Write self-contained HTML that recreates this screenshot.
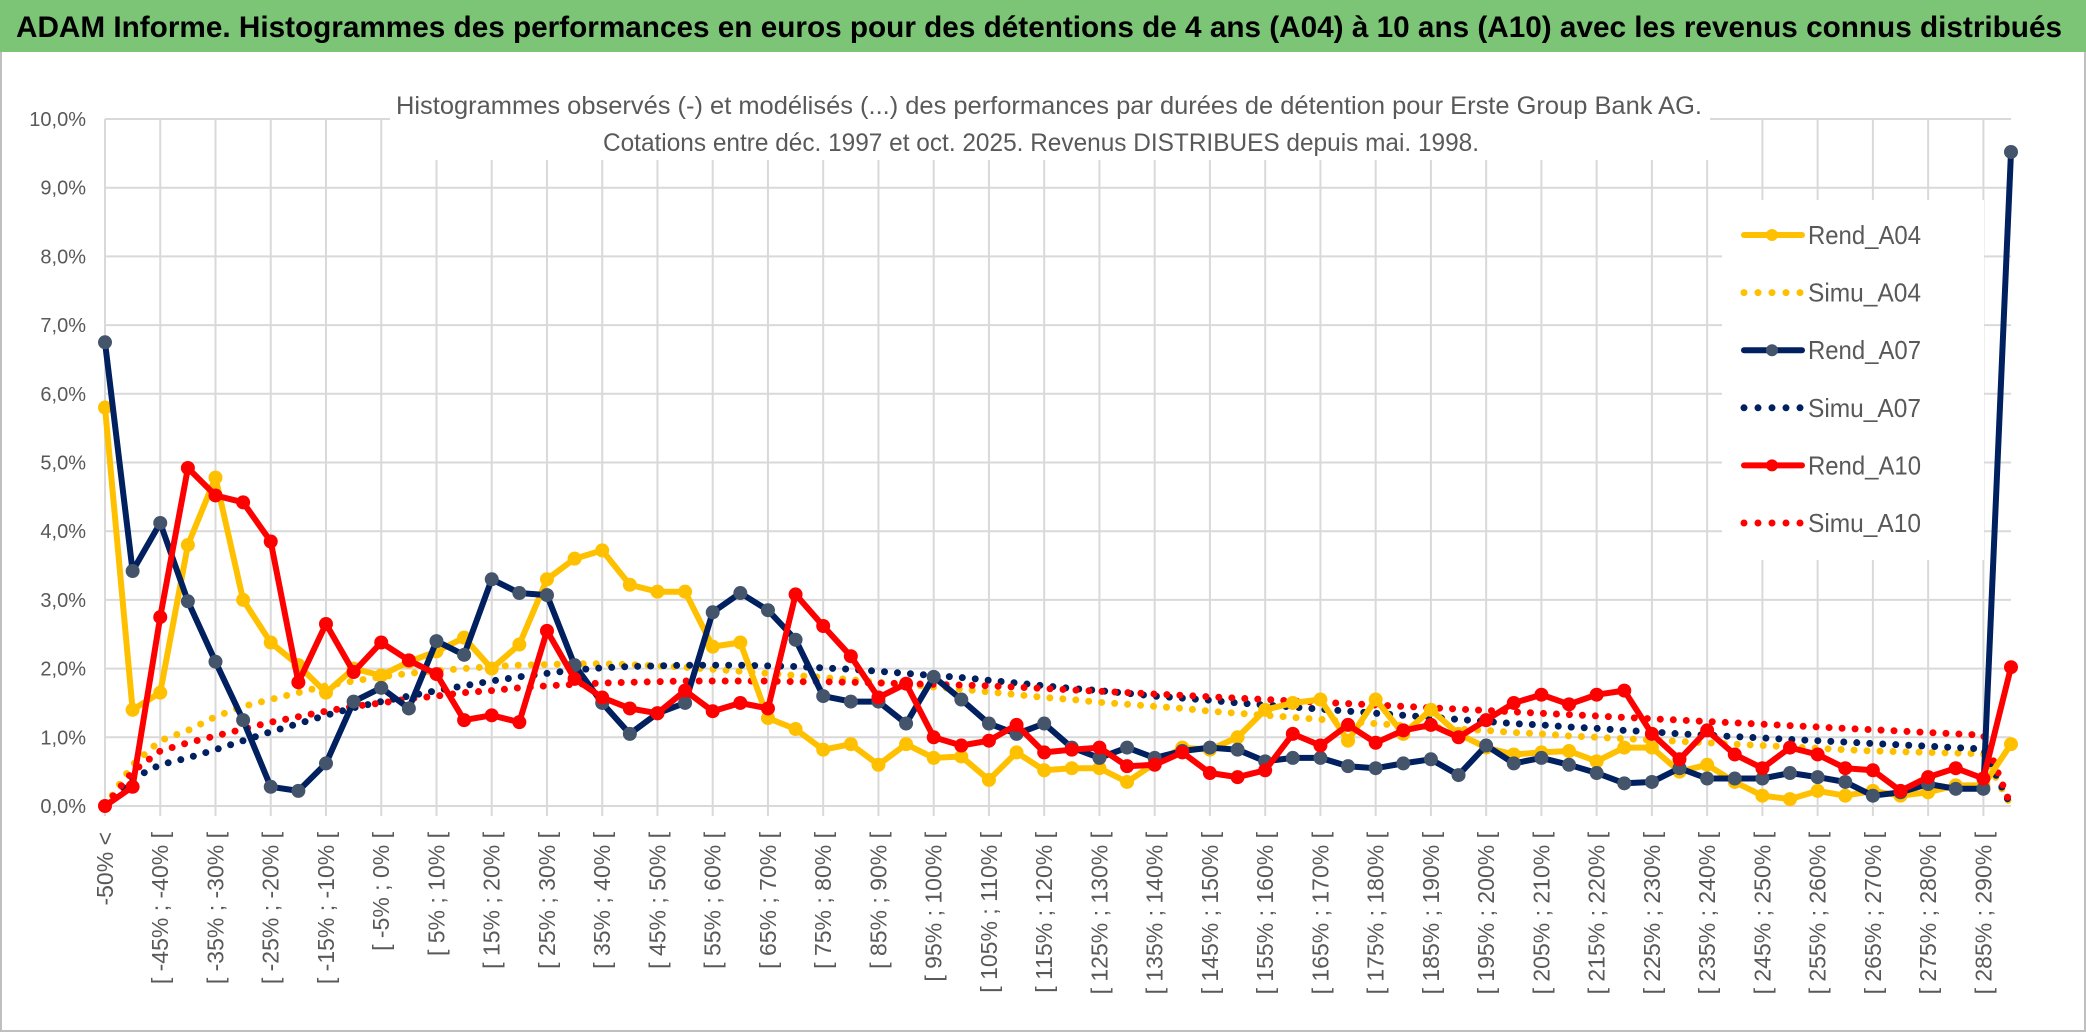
<!DOCTYPE html>
<html><head><meta charset="utf-8"><style>
html,body{margin:0;padding:0;background:#fff;}
svg{display:block;font-family:"Liberation Sans",sans-serif;}
</style></head><body>
<svg id="chart" width="2086" height="1033" viewBox="0 0 2086 1033" xmlns="http://www.w3.org/2000/svg">
<rect x="0" y="0" width="2086" height="1033" fill="#fff"/>
<rect x="1" y="1" width="2084" height="1030" fill="none" stroke="#bfbfbf" stroke-width="2"/>
<rect x="0" y="0" width="2086" height="52" fill="#7cc576"/>
<text x="16" y="37" font-size="30" font-weight="bold" fill="#000" textLength="2046" lengthAdjust="spacingAndGlyphs">ADAM Informe. Histogrammes des performances en euros pour des détentions de 4 ans (A04) à 10 ans (A10) avec les revenus connus distribués</text>
<g id="grid"></g>
<g id="yaxis"></g>
<g id="xaxis"></g>
<g id="series"></g>
<rect x="390" y="80" width="1320" height="80" fill="#fff"/>
<text x="1049" y="114" font-size="25" fill="#595959" text-anchor="middle" textLength="1306" lengthAdjust="spacingAndGlyphs">Histogrammes observés (-) et modélisés (...) des performances par durées de détention pour Erste Group Bank AG.</text>
<text x="1041" y="151" font-size="25" fill="#595959" text-anchor="middle" textLength="876" lengthAdjust="spacingAndGlyphs">Cotations entre déc. 1997 et oct. 2025. Revenus DISTRIBUES depuis mai. 1998.</text>
<g id="legend"></g>
</svg>
<script>
const categories = ["-50% <","[ -50% ; -45% [","[ -45% ; -40% [","[ -40% ; -35% [","[ -35% ; -30% [","[ -30% ; -25% [","[ -25% ; -20% [","[ -20% ; -15% [","[ -15% ; -10% [","[ -10% ; -5% [","[ -5% ; 0% [","[ 0% ; 5% [","[ 5% ; 10% [","[ 10% ; 15% [","[ 15% ; 20% [","[ 20% ; 25% [","[ 25% ; 30% [","[ 30% ; 35% [","[ 35% ; 40% [","[ 40% ; 45% [","[ 45% ; 50% [","[ 50% ; 55% [","[ 55% ; 60% [","[ 60% ; 65% [","[ 65% ; 70% [","[ 70% ; 75% [","[ 75% ; 80% [","[ 80% ; 85% [","[ 85% ; 90% [","[ 90% ; 95% [","[ 95% ; 100% [","[ 100% ; 105% [","[ 105% ; 110% [","[ 110% ; 115% [","[ 115% ; 120% [","[ 120% ; 125% [","[ 125% ; 130% [","[ 130% ; 135% [","[ 135% ; 140% [","[ 140% ; 145% [","[ 145% ; 150% [","[ 150% ; 155% [","[ 155% ; 160% [","[ 160% ; 165% [","[ 165% ; 170% [","[ 170% ; 175% [","[ 175% ; 180% [","[ 180% ; 185% [","[ 185% ; 190% [","[ 190% ; 195% [","[ 195% ; 200% [","[ 200% ; 205% [","[ 205% ; 210% [","[ 210% ; 215% [","[ 215% ; 220% [","[ 220% ; 225% [","[ 225% ; 230% [","[ 230% ; 235% [","[ 235% ; 240% [","[ 240% ; 245% [","[ 245% ; 250% [","[ 250% ; 255% [","[ 255% ; 260% [","[ 260% ; 265% [","[ 265% ; 270% [","[ 270% ; 275% [","[ 275% ; 280% [","[ 280% ; 285% [","[ 285% ; 290% [","> 290%"];
const yTickLabels = ["0,0%","1,0%","2,0%","3,0%","4,0%","5,0%","6,0%","7,0%","8,0%","9,0%","10,0%"];
const yTickValues = [0,1,2,3,4,5,6,7,8,9,10];
const rendA04 = [5.8,1.4,1.65,3.8,4.78,3.0,2.38,2.05,1.65,2.0,1.9,2.1,2.25,2.45,2.0,2.35,3.3,3.6,3.72,3.22,3.12,3.12,2.32,2.38,1.28,1.12,0.82,0.9,0.6,0.9,0.7,0.72,0.38,0.78,0.52,0.55,0.55,0.35,0.62,0.85,0.82,1.0,1.4,1.5,1.55,0.95,1.55,1.05,1.4,1.05,0.85,0.75,0.78,0.8,0.65,0.85,0.85,0.5,0.6,0.35,0.15,0.1,0.22,0.15,0.22,0.15,0.2,0.3,0.3,0.9];
const rendA07 = [6.75,3.42,4.12,2.98,2.1,1.25,0.28,0.22,0.62,1.52,1.72,1.42,2.4,2.2,3.3,3.1,3.07,2.05,1.5,1.05,1.35,1.5,2.82,3.1,2.85,2.42,1.6,1.52,1.52,1.2,1.88,1.55,1.2,1.05,1.2,0.85,0.7,0.85,0.7,0.8,0.85,0.82,0.65,0.7,0.7,0.58,0.55,0.62,0.68,0.45,0.88,0.62,0.7,0.6,0.48,0.33,0.35,0.55,0.4,0.4,0.4,0.48,0.42,0.35,0.15,0.2,0.32,0.25,0.25,9.52];
const rendA10 = [0,0.28,2.75,4.92,4.52,4.42,3.85,1.8,2.65,1.95,2.38,2.12,1.92,1.25,1.32,1.22,2.55,1.85,1.58,1.42,1.35,1.68,1.38,1.5,1.42,3.08,2.62,2.18,1.58,1.78,1.0,0.88,0.95,1.18,0.78,0.82,0.85,0.58,0.6,0.78,0.48,0.42,0.52,1.05,0.88,1.18,0.92,1.1,1.18,1.0,1.25,1.5,1.62,1.48,1.62,1.68,1.05,0.68,1.1,0.75,0.55,0.85,0.75,0.55,0.52,0.22,0.42,0.55,0.4,2.02];
const simuA04 = [0,0.6,0.95,1.1,1.3,1.45,1.55,1.65,1.75,1.82,1.88,1.93,1.97,2.0,2.03,2.05,2.06,2.07,2.07,2.06,2.04,2.02,1.99,1.96,1.93,1.9,1.87,1.84,1.8,1.77,1.73,1.7,1.66,1.62,1.58,1.55,1.51,1.48,1.45,1.42,1.38,1.35,1.32,1.29,1.26,1.23,1.2,1.17,1.15,1.12,1.1,1.07,1.05,1.02,1.0,0.98,0.96,0.94,0.92,0.9,0.88,0.86,0.84,0.82,0.8,0.79,0.78,0.77,0.76,0];
const simuA07 = [0,0.4,0.6,0.7,0.82,0.95,1.08,1.2,1.32,1.43,1.52,1.6,1.68,1.75,1.82,1.88,1.93,1.98,2.01,2.03,2.04,2.05,2.05,2.05,2.04,2.03,2.01,1.99,1.96,1.93,1.9,1.87,1.83,1.79,1.75,1.71,1.68,1.64,1.6,1.57,1.54,1.5,1.47,1.44,1.41,1.38,1.35,1.32,1.29,1.26,1.23,1.2,1.18,1.15,1.13,1.1,1.08,1.05,1.03,1.01,0.99,0.97,0.95,0.93,0.91,0.89,0.87,0.85,0.83,0];
const simuA10 = [0,0.5,0.8,0.92,1.02,1.12,1.22,1.3,1.38,1.45,1.5,1.56,1.6,1.65,1.68,1.72,1.75,1.77,1.79,1.8,1.81,1.82,1.82,1.82,1.82,1.81,1.81,1.8,1.79,1.78,1.77,1.76,1.75,1.73,1.71,1.69,1.67,1.65,1.63,1.61,1.59,1.57,1.55,1.53,1.51,1.49,1.47,1.45,1.43,1.41,1.39,1.37,1.35,1.33,1.31,1.29,1.27,1.25,1.23,1.21,1.19,1.17,1.15,1.13,1.11,1.09,1.07,1.05,1.03,0];
const legendLabels = ["Rend_A04","Simu_A04","Rend_A07","Simu_A07","Rend_A10","Simu_A10"];

const NS = "http://www.w3.org/2000/svg";
const X0 = 105, X1 = 2011, Y0 = 806, YPER = 68.7;
function xPos(i){ return X0 + i*(X1-X0)/(categories.length-1); }
function yPos(v){ return Y0 - v*YPER; }
function mk(tag, attrs, parent){ const e=document.createElementNS(NS,tag); for(const k in attrs) e.setAttribute(k,attrs[k]); parent.appendChild(e); return e; }

const grid=document.getElementById('grid');
yTickValues.forEach(function(v,i){
  const l=mk('line',{x1:X0,x2:X1,y1:yPos(v),y2:yPos(v),stroke:'#d9d9d9','stroke-width':2},grid);
  
  
});
categories.forEach(function(c,i){
  if(i%2!==0) return;
  const l=mk('line',{x1:xPos(i),x2:xPos(i),y1:yPos(10),y2:Y0+10,stroke:'#d9d9d9','stroke-width':2},grid);
  
  
});
const yaxis=document.getElementById('yaxis');
yTickLabels.forEach(function(t,i){
  const e=mk('text',{x:86,y:yPos(yTickValues[i])+7,'font-size':20,fill:'#595959','text-anchor':'end'},yaxis);
  e.textContent=t;
  
  
});
const xaxis=document.getElementById('xaxis');
categories.forEach(function(c,i){
  if(i%2!==0) return;
  const x=xPos(i)+8, y=832;
  const e=mk('text',{x:x,y:y,'font-size':23,fill:'#595959','text-anchor':'end',transform:'rotate(-90 '+x+' '+y+')'},xaxis);
  e.textContent=c;
  
  
});

const series=document.getElementById('series');
function pts(arr){ return arr.map(function(v,i){return xPos(i).toFixed(1)+','+yPos(v).toFixed(1);}).join(' '); }
function dotted(arr,color,name){
  const p=mk('polyline',{points:pts(arr),fill:'none',stroke:color,'stroke-width':7,'stroke-linecap':'round','stroke-dasharray':'0 13'},series);
  
  
}
function solid(arr,color,marker,name){
  const g=mk('g',{},series);
  
  
  mk('polyline',{points:pts(arr),fill:'none',stroke:color,'stroke-width':6,'stroke-linejoin':'round'},g);
  arr.forEach(function(v,i){
    const c=mk('circle',{cx:xPos(i),cy:yPos(v),r:7,fill:marker},g);
    
    
  });
}
dotted(simuA04,'#ffc000','simu-a04-line');
dotted(simuA07,'#002060','simu-a07-line');
dotted(simuA10,'#ff0000','simu-a10-line');
solid(rendA04,'#ffc000','#ffc000','rend-a04-line');
solid(rendA07,'#002060','#44546a','rend-a07-line');
solid(rendA10,'#ff0000','#ff0000','rend-a10-line');

const legend=document.getElementById('legend');
mk('rect',{x:1722,y:200,width:262,height:360,fill:'#fff'},legend);
const lcolors=['#ffc000','#ffc000','#002060','#002060','#ff0000','#ff0000'];
const lmark=['#ffc000',null,'#44546a',null,'#ff0000',null];
legendLabels.forEach(function(t,i){
  const y=235+i*57.6;
  const g=mk('g',{},legend);
  
  
  if(lmark[i]){
    mk('line',{x1:1744,x2:1802,y1:y,y2:y,stroke:lcolors[i],'stroke-width':6,'stroke-linecap':'round'},g);
    mk('circle',{cx:1772,cy:y,r:6,fill:lmark[i]},g);
  } else {
    mk('line',{x1:1744,x2:1802,y1:y,y2:y,stroke:lcolors[i],'stroke-width':7,'stroke-linecap':'round','stroke-dasharray':'0 14'},g);
  }
  const e=mk('text',{x:1808,y:y+9,'font-size':26,fill:'#595959',textLength:113,lengthAdjust:'spacingAndGlyphs'},g);
  e.textContent=t;
});
</script>
</body></html>
